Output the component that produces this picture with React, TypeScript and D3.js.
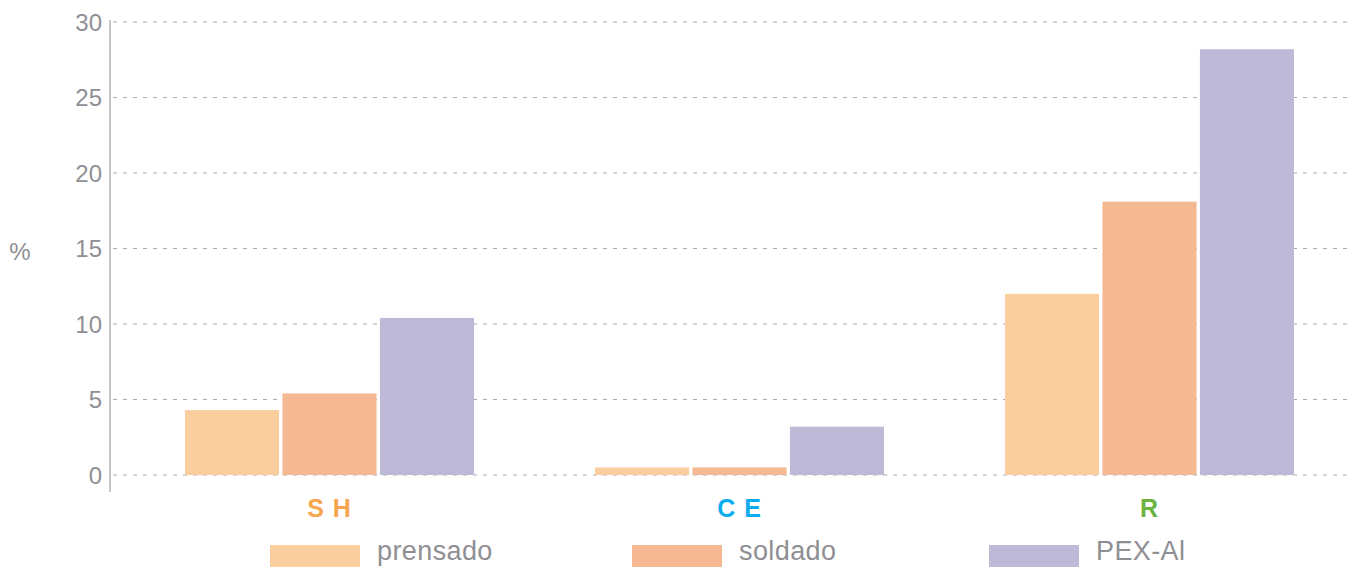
import { useEffect, useRef } from 'react'
import * as d3 from 'd3'

const categories = ['S H', 'C E', 'R']
const categoryColors = ['#F7A54F', '#0AADEE', '#6CB33F']
const seriesNames = ['prensado', 'soldado', 'PEX-Al']
const seriesColors = ['#FBCE9F', '#F4B892', '#BEB9D7']
const prensado = [4.3, 0.5, 12.0]
const soldado = [5.4, 0.5, 18.1]
const pexAl = [10.4, 3.2, 28.2]
const yTicks = [0, 5, 10, 15, 20, 25, 30]

const W = 1363
const H = 567
const FONT = '"Liberation Sans", Arial, Helvetica, sans-serif'

export default function App() {
  const svgRef = useRef<SVGSVGElement>(null)

  useEffect(() => {
    document.body.style.margin = '0'
    if (!svgRef.current) return
    const svg = d3.select(svgRef.current)
    svg.selectAll('*').remove()

    const values = [prensado, soldado, pexAl]

    const y = d3.scaleLinear().domain([0, 30]).range([475, 22])
    const x0 = d3.scaleBand<string>().domain(categories).range([124.5, 1354.5]).padding(0)
    const x1 = d3.scaleBand<string>()
      .domain(seriesNames)
      .range([60.5, 349.5])
      .paddingInner(0.035)

    // Grid lines
    svg.append('g')
      .selectAll('line')
      .data(yTicks)
      .join('line')
      .attr('x1', 113).attr('x2', 1352)
      .attr('y1', d => y(d)).attr('y2', d => y(d))
      .attr('stroke', '#aaaaaa')
      .attr('stroke-width', 1)
      .attr('stroke-dasharray', '4 6')

    // Y axis line
    svg.append('line')
      .attr('x1', 110).attr('x2', 110)
      .attr('y1', 20).attr('y2', 492)
      .attr('stroke', '#a8a8a8').attr('stroke-width', 1.3)

    // Tick labels
    svg.append('g')
      .selectAll('text')
      .data(yTicks)
      .join('text')
      .attr('x', 102)
      .attr('y', d => y(d))
      .attr('dy', '0.36em')
      .attr('text-anchor', 'end')
      .attr('font-family', FONT)
      .attr('font-size', 24)
      .attr('fill', '#8f8f93')
      .text(d => d)

    svg.append('text')
      .attr('x', 20).attr('y', y(15) + 3)
      .attr('dy', '0.36em')
      .attr('text-anchor', 'middle')
      .attr('font-family', FONT)
      .attr('font-size', 24)
      .attr('fill', '#8f8f93')
      .text('%')

    // Bars
    categories.forEach((c, ci) => {
      const g = svg.append('g').attr('transform', `translate(${x0(c)},0)`)
      seriesNames.forEach((s, si) => {
        const v = values[si][ci]
        g.append('rect')
          .attr('x', x1(s) ?? 0)
          .attr('y', y(v))
          .attr('width', x1.bandwidth())
          .attr('height', y(0) - y(v))
          .attr('fill', seriesColors[si])
      })
    })

    // Category labels
    svg.append('g')
      .selectAll('text')
      .data(categories)
      .join('text')
      .attr('x', d => (x0(d) ?? 0) + 60.5 + 289 / 2)
      .attr('y', 517)
      .attr('text-anchor', 'middle')
      .attr('font-family', FONT)
      .attr('font-weight', 'bold')
      .attr('font-size', 25)
      .attr('letter-spacing', 1)
      .attr('fill', (_, i) => categoryColors[i])
      .text(d => d)

    // Legend
    const legendX = [270, 632, 989]
    seriesNames.forEach((s, i) => {
      svg.append('rect')
        .attr('x', legendX[i]).attr('y', 545)
        .attr('width', 90).attr('height', 22)
        .attr('fill', seriesColors[i])
      svg.append('text')
        .attr('x', legendX[i] + 107).attr('y', 560)
        .attr('font-family', FONT)
        .attr('font-size', 27)
        .attr('letter-spacing', 0.4)
        .attr('fill', '#8f8f93')
        .text(s)
    })
  }, [])

  return <svg ref={svgRef} width={W} height={H} style={{ display: 'block' }} />
}
